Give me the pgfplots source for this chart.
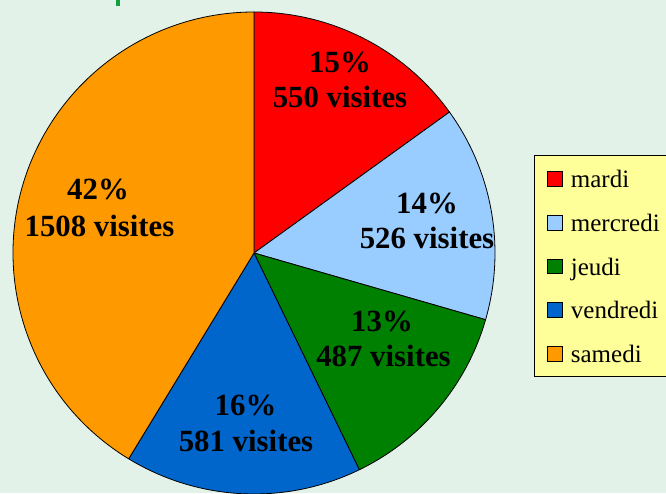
\documentclass[border=0pt]{standalone}
\usepackage{pgfplots}
\usepackage{pgfplotstable}
\pgfplotsset{compat=1.18}
\usepackage{fontspec}
\setmainfont{Liberation Serif}
\definecolor{bgc}{HTML}{E3F2E9}
\definecolor{c0}{HTML}{FF0000}
\definecolor{c1}{HTML}{99CCFF}
\definecolor{c2}{HTML}{008000}
\definecolor{c3}{HTML}{0066CC}
\definecolor{c4}{HTML}{FF9900}
\definecolor{legbg}{HTML}{FFFF99}
\definecolor{titlegreen}{HTML}{10A040}

\pgfplotstableread{
day visits
mardi 550
mercredi 526
jeudi 487
vendredi 581
samedi 1508
}\piedata

\begin{document}
\begin{tikzpicture}
% total of the visits
\gdef\total{0}
\foreach \i in {0,...,4}{%
  \pgfplotstablegetelem{\i}{visits}\of\piedata
  \pgfmathsetmacro\tnew{\total+\pgfplotsretval}%
  \global\let\total\tnew
}
% cumulative angles, clockwise from the top
\gdef\cum{0}
\foreach \i in {0,...,4}{%
  \pgfplotstablegetelem{\i}{visits}\of\piedata
  \pgfmathsetmacro\sang{90-\cum/\total*360}%
  \pgfmathsetmacro\cumnew{\cum+\pgfplotsretval}%
  \pgfmathsetmacro\eang{90-\cumnew/\total*360}%
  \expandafter\xdef\csname sa\i\endcsname{\sang}%
  \expandafter\xdef\csname ea\i\endcsname{\eang}%
  \global\let\cum\cumnew
}
\begin{axis}[
  width=666pt, height=493pt, scale only axis,
  xmin=0, xmax=666, ymin=0, ymax=493,
  hide axis, clip=true,
]
\coordinate (bl) at (axis cs:0,0);
\coordinate (tr) at (axis cs:666,493);
\fill[bgc] (axis cs:0,0) rectangle (axis cs:666,493);
\fill[titlegreen] (axis cs:115.5,493) rectangle (axis cs:119.5,487);

\pgfplotsinvokeforeach{0,...,4}{%
  \filldraw[fill=c#1, draw=black, line width=0.8pt, line join=round]
    (axis cs:254,240) -- ++(\csname sa#1\endcsname:241pt)
    arc[start angle=\csname sa#1\endcsname, end angle=\csname ea#1\endcsname, radius=241pt]
    -- cycle;
}

% slice labels
\tikzset{lbl/.style={anchor=base, font=\bfseries\fontsize{30.8}{36}\selectfont, inner sep=0pt}}
\node[lbl] at (axis cs:340,420) {15\%};
\node[lbl] at (axis cs:340,385) {550 visites};
\node[lbl] at (axis cs:427,279.7) {14\%};
\node[lbl] at (axis cs:427,244.7) {526 visites};
\node[lbl] at (axis cs:382,161.3) {13\%};
\node[lbl] at (axis cs:383.5,126.3) {487 visites};
\node[lbl] at (axis cs:245.5,78) {16\%};
\node[lbl] at (axis cs:246,41.3) {581 visites};
\node[lbl] at (axis cs:98,293) {42\%};
\node[lbl] at (axis cs:99.5,256.3) {1508 visites};

% legend
\filldraw[fill=legbg, draw=black, line width=0.8pt] (axis cs:534.7,337.3) rectangle (axis cs:690,117);
\tikzset{lt/.style={anchor=base west, font=\fontsize{25}{29}\selectfont, inner sep=0pt}}
\pgfplotsinvokeforeach{0,...,4}{%
  \filldraw[fill=c#1, draw=black, line width=0.8pt]
    (axis cs:547.5,{493-171.7-43.7*#1}) rectangle (axis cs:562,{493-186.3-43.7*#1});
}
\node[lt] at (axis cs:570.7,305.3) {mardi};
\node[lt] at (axis cs:570.7,261.6) {mercredi};
\node[lt] at (axis cs:570.7,217.9) {jeudi};
\node[lt] at (axis cs:570.7,174.2) {vendredi};
\node[lt] at (axis cs:570.7,130.5) {samedi};
\end{axis}
\pgfresetboundingbox
\useasboundingbox (bl) rectangle (tr);
\end{tikzpicture}
\end{document}
